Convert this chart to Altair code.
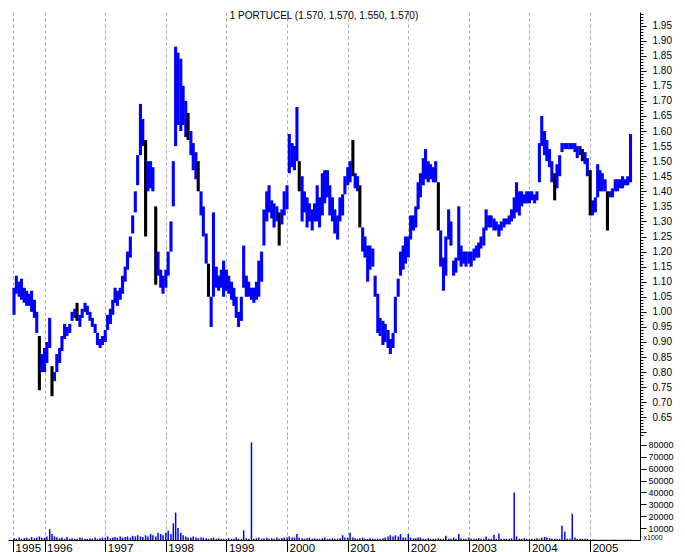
import altair as alt
import pandas as pd

TITLE = "1 PORTUCEL (1.570, 1.570, 1.550, 1.570)"

# semi-monthly price ranges (low / high)
low_1995 = [0.99, 1.06, 1.05, 1.04, 1.03, 1.02, 1.02, 1.00, 0.98, 0.93, 0.74, 0.80]
high_1995 = [1.08, 1.12, 1.10, 1.11, 1.08, 1.07, 1.06, 1.07, 1.04, 1.00, 0.92, 0.86]
low_1996 = [0.80, 0.83, 0.88, 0.72, 0.77, 0.80, 0.83, 0.87, 0.91, 0.92, 0.93, 0.97, 0.98, 0.97, 0.95, 0.98, 1.00, 0.99, 0.97, 0.95, 0.93, 0.89, 0.88, 0.89]
high_1996 = [0.88, 0.90, 0.98, 0.82, 0.80, 0.86, 0.88, 0.92, 0.96, 0.95, 0.96, 1.00, 1.01, 1.03, 0.99, 1.01, 1.03, 1.02, 1.00, 0.98, 0.96, 0.93, 0.91, 0.92]
low_1997 = [0.90, 0.94, 0.96, 0.99, 1.03, 1.02, 1.04, 1.06, 1.10, 1.14, 1.18, 1.26, 1.33, 1.42, 1.52, 1.55, 1.25, 1.40, 1.41, 1.40, 1.09, 1.12, 1.08, 1.06]
high_1997 = [0.94, 0.99, 1.01, 1.04, 1.08, 1.07, 1.08, 1.12, 1.15, 1.20, 1.25, 1.32, 1.40, 1.52, 1.69, 1.64, 1.57, 1.50, 1.50, 1.48, 1.35, 1.20, 1.14, 1.12]
low_1998 = [1.08, 1.12, 1.20, 1.35, 1.55, 1.62, 1.60, 1.62, 1.58, 1.57, 1.52, 1.47, 1.44, 1.40, 1.32, 1.25, 1.16, 1.05, 0.95, 1.05, 1.08, 1.07, 1.08, 1.05]
high_1998 = [1.14, 1.20, 1.30, 1.50, 1.88, 1.86, 1.84, 1.75, 1.70, 1.66, 1.60, 1.56, 1.53, 1.50, 1.40, 1.35, 1.26, 1.16, 1.05, 1.33, 1.15, 1.12, 1.14, 1.17]
low_1999 = [1.07, 1.06, 1.04, 1.02, 0.98, 0.95, 0.97, 1.08, 1.05, 1.05, 1.04, 1.03, 1.04, 1.05, 1.10, 1.22, 1.30, 1.33, 1.31, 1.28, 1.30, 1.22, 1.29, 1.32]
high_1999 = [1.14, 1.12, 1.10, 1.08, 1.05, 1.00, 1.05, 1.22, 1.12, 1.10, 1.08, 1.08, 1.10, 1.17, 1.20, 1.34, 1.40, 1.42, 1.37, 1.36, 1.35, 1.33, 1.34, 1.40]
low_2000 = [1.34, 1.46, 1.48, 1.47, 1.50, 1.40, 1.30, 1.33, 1.28, 1.30, 1.27, 1.30, 1.30, 1.28, 1.32, 1.36, 1.38, 1.32, 1.30, 1.26, 1.24, 1.30, 1.32, 1.39]
high_2000 = [1.42, 1.59, 1.56, 1.55, 1.68, 1.50, 1.45, 1.40, 1.38, 1.36, 1.34, 1.36, 1.42, 1.38, 1.46, 1.47, 1.47, 1.42, 1.38, 1.34, 1.32, 1.38, 1.39, 1.45]
low_2001 = [1.42, 1.43, 1.45, 1.41, 1.40, 1.28, 1.20, 1.18, 1.10, 1.14, 1.15, 1.05, 0.93, 0.92, 0.89, 0.90, 0.88, 0.86, 0.88, 0.93, 1.05, 1.12, 1.14, 1.16]
high_2001 = [1.48, 1.50, 1.57, 1.46, 1.45, 1.42, 1.28, 1.25, 1.22, 1.22, 1.21, 1.12, 1.06, 0.98, 0.97, 0.96, 0.94, 0.91, 0.93, 1.05, 1.11, 1.20, 1.22, 1.25]
low_2002 = [1.18, 1.24, 1.27, 1.28, 1.34, 1.38, 1.42, 1.44, 1.43, 1.44, 1.43, 1.43, 1.27, 1.15, 1.07, 1.12, 1.24, 1.22, 1.12, 1.13, 1.17, 1.15, 1.16, 1.15]
high_2002 = [1.25, 1.32, 1.32, 1.35, 1.43, 1.46, 1.51, 1.54, 1.50, 1.49, 1.48, 1.50, 1.43, 1.27, 1.18, 1.25, 1.34, 1.30, 1.17, 1.18, 1.35, 1.22, 1.20, 1.20]
low_2003 = [1.16, 1.15, 1.17, 1.18, 1.18, 1.21, 1.22, 1.27, 1.28, 1.28, 1.27, 1.27, 1.25, 1.27, 1.28, 1.29, 1.29, 1.30, 1.31, 1.33, 1.32, 1.35, 1.36, 1.36]
high_2003 = [1.20, 1.20, 1.21, 1.22, 1.23, 1.25, 1.28, 1.34, 1.32, 1.32, 1.31, 1.30, 1.29, 1.30, 1.31, 1.31, 1.32, 1.34, 1.38, 1.43, 1.40, 1.40, 1.39, 1.40]
low_2004 = [1.36, 1.37, 1.36, 1.37, 1.43, 1.55, 1.52, 1.50, 1.48, 1.43, 1.37, 1.41, 1.45, 1.53, 1.54, 1.54, 1.54, 1.54, 1.53, 1.51, 1.52, 1.50, 1.49, 1.45]
high_2004 = [1.40, 1.40, 1.39, 1.40, 1.56, 1.65, 1.60, 1.57, 1.54, 1.50, 1.46, 1.49, 1.52, 1.56, 1.56, 1.56, 1.56, 1.56, 1.56, 1.55, 1.55, 1.54, 1.53, 1.51]
low_2005 = [1.32, 1.32, 1.33, 1.38, 1.40, 1.40, 1.40, 1.27, 1.38, 1.38, 1.40, 1.40, 1.41, 1.41, 1.42, 1.42, 1.43]
high_2005 = [1.47, 1.37, 1.38, 1.49, 1.47, 1.46, 1.44, 1.40, 1.40, 1.41, 1.44, 1.44, 1.44, 1.45, 1.44, 1.45, 1.59]

# volume in thousands
vol_1995 = [1.5, 1, 2, 1, 1.5, 2, 1, 2.5, 1.5, 2, 3, 2]
vol_1996 = [2, 3, 9, 5, 3, 2, 1.5, 2, 1, 2.5, 1, 1.5, 1, 1, 2, 1.5, 1, 1, 1.5, 1, 2, 1, 1.5, 2]
vol_1997 = [2, 3, 1.5, 2, 2.5, 2, 3, 2, 2.5, 3, 2, 3.5, 3, 4, 3, 2.5, 4, 3, 5, 4, 3, 6, 5, 4]
vol_1998 = [6, 8, 5, 14, 23, 10, 6, 4, 3, 2, 2, 3, 2, 1.5, 2, 2, 1.5, 1, 1.5, 2, 1, 1.5, 1, 1]
vol_1999 = [1, 1.5, 1, 1, 2, 1, 1, 8, 1.5, 1, 82, 1, 1.5, 2, 1, 1.5, 2, 1, 1.5, 1, 2, 1, 1.5, 2]
vol_2000 = [2, 3, 2, 2, 5, 2, 1.5, 1, 1.5, 2, 1, 1.5, 1, 1, 1.5, 2, 1, 1, 1.5, 1, 1, 1.5, 4, 2]
vol_2001 = [2, 6, 2, 1.5, 1, 1.5, 2, 1, 1, 1.5, 1, 1, 1, 1, 1.5, 2, 3, 4, 3, 4, 3, 5, 2, 2]
vol_2002 = [5, 2, 1.5, 1.5, 2, 2, 1, 1, 1.5, 1, 1, 1, 1.5, 1, 1, 3.5, 1, 1, 2, 1, 5, 1.5, 1, 1]
vol_2003 = [2, 1, 1, 1, 1.5, 1, 1, 3, 1, 1, 4.5, 1, 5.5, 1, 1, 1, 1, 1.5, 40, 3, 1, 1, 1.5, 1]
vol_2004 = [1, 1, 1, 1.5, 1, 2, 2.5, 2, 1.5, 1, 1, 1, 1, 12, 7, 1, 1, 22, 2, 1, 1, 1, 1, 1]
vol_2005 = [0.5, 0.5, 0.3, 0.3, 0.3, 0.3, 0.3, 0.3, 0.3, 0.3, 0.3, 0.3, 0.3, 0.3, 0.3, 0.3, 0.5]

down_dates = ["1995-12-01", "1996-02-15", "1996-07-15", "1997-09-01", "1997-11-01",
              "1998-05-15", "1998-07-15", "1998-09-15", "1999-11-15", "2000-03-15",
              "2001-02-01", "2001-03-15", "2002-07-01", "2004-06-01", "2004-11-15",
              "2005-01-01", "2005-04-15"]

year_ticks = ["1995-06-25", "1996-01-01", "1997-01-01", "1998-01-01", "1999-01-01", "2000-01-01",
              "2001-01-01", "2002-01-01", "2003-01-01", "2004-01-01", "2005-01-01"]

lows = low_1995 + low_1996 + low_1997 + low_1998 + low_1999 + low_2000 + low_2001 + low_2002 + low_2003 + low_2004 + low_2005
highs = high_1995 + high_1996 + high_1997 + high_1998 + high_1999 + high_2000 + high_2001 + high_2002 + high_2003 + high_2004 + high_2005
vols = vol_1995 + vol_1996 + vol_1997 + vol_1998 + vol_1999 + vol_2000 + vol_2001 + vol_2002 + vol_2003 + vol_2004 + vol_2005

dates = pd.date_range("1995-07-01", "2005-09-01", freq="SMS")
df = pd.DataFrame({"date": dates.strftime("%Y-%m-%d"), "lo": lows, "hi": highs, "vol": vols})
df["dir"] = ["down" if d in down_dates else "up" for d in df["date"]]


def dt(s):
    y, m, d = (int(v) for v in s.split("-"))
    return alt.DateTime(year=y, month=m, date=d)


x_scale = alt.Scale(domain=[dt("1995-06-25"), dt("2005-09-28")])
tick_vals = [dt(s) for s in year_ticks]
W = 632
FONT = "Liberation Sans"
GRID = dict(grid=True, gridDash=[3, 3], gridColor="#a8a4b8", gridWidth=1)

x_top = alt.X("date:T", scale=x_scale, title=None,
              axis=alt.Axis(values=tick_vals, labels=False, ticks=False, domain=False, **GRID))
x_bot = alt.X("date:T", scale=x_scale, title=None,
              axis=alt.Axis(values=tick_vals, labelExpr="timeFormat(datum.value, '%Y')",
                            tickSize=13, tickColor="black", domainColor="black",
                            labelAlign="left", labelBaseline="top", labelPadding=-11, labelOffset=2,
                            labelFontSize=11.5, labelFont=FONT, labelColor="black",
                            labelFlush=False, labelOverlap=False, **GRID))

y_price = alt.Scale(domain=[0.588, 1.995], nice=False, zero=False)
tick_values = [round(0.59 + 0.01 * i, 2) for i in range(141)]
IS_MAJOR = "abs(datum.value * 20 - round(datum.value * 20)) < 0.001"

price = alt.Chart(df).mark_bar(width=3.1).encode(
    x=x_top,
    y=alt.Y("lo:Q", scale=y_price, title=None,
            axis=alt.Axis(orient="right", values=tick_values,
                          labelExpr=f"({IS_MAJOR}) && datum.value > 0.62 ? format(datum.value, '.2f') : ''",
                          tickSize={"condition": {"test": IS_MAJOR, "value": 6}, "value": 3},
                          tickColor="black", domainColor="black", labelFontSize=10,
                          labelFont=FONT, labelColor="black", labelPadding=6, grid=False,
                          labelOverlap=False, labelFlush=False)),
    y2="hi:Q",
    color=alt.Color("dir:N", scale=alt.Scale(domain=["up", "down"], range=["#0000ff", "#000000"]), legend=None),
).properties(
    width=W, height=424,
    title=alt.Title(TITLE, fontSize=10, fontWeight="normal", font=FONT, color="black",
                    anchor="middle", frame="group", offset=-12),
)

volume = alt.Chart(df).mark_bar(width=1.5, color="#0000ff").encode(
    x=x_bot,
    y=alt.Y("vol:Q", scale=alt.Scale(domain=[0, 87.4], nice=False),
            axis=alt.Axis(orient="right", values=[10, 20, 30, 40, 50, 60, 70, 80],
                          labelExpr="format(datum.value * 1000, 'd')", tickSize=6,
                          tickColor="black", domainColor="black", labelFontSize=9,
                          labelFont=FONT, labelColor="black", labelPadding=2, grid=False,
                          title="x1000", titleAngle=0, titleFontSize=7, titleFontWeight="normal",
                          titleFont=FONT, titleColor="black", titleAlign="left",
                          titleBaseline="bottom", titleX=3, titleY=104)),
).properties(width=W, height=104)

chart = alt.vconcat(price, volume, spacing=0, bounds="flush").properties(
    padding=0, background="white"
).configure_view(stroke=None)

chart.save("out.html", embed_options={"renderer": "svg", "actions": False})
